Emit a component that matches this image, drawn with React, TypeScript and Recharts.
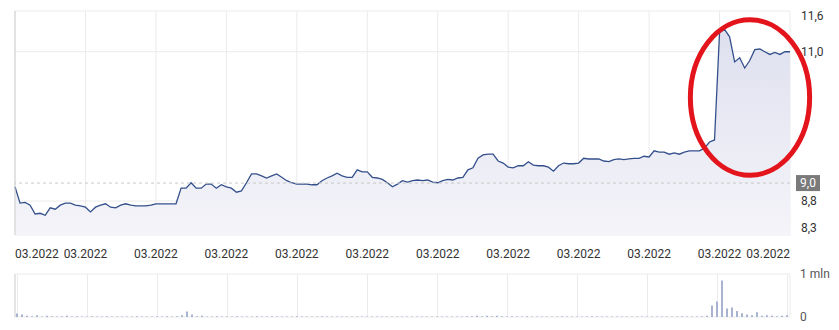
import React from 'react';
import {
  ComposedChart,
  Area,
  Bar,
  XAxis,
  YAxis,
  CartesianGrid,
  ReferenceLine,
  ReferenceArea,
} from 'recharts';

// closing prices, one point per session (index = session number)
const prices = [
  9.01, 8.77, 8.78, 8.74, 8.61, 8.62, 8.59, 8.7, 8.68, 8.74, 8.77, 8.77, 8.74, 8.73,
  8.71, 8.64, 8.71, 8.74, 8.76, 8.71, 8.7, 8.74, 8.76, 8.74, 8.73, 8.73, 8.73, 8.74,
  8.76, 8.76, 8.76, 8.76, 8.76, 8.99, 8.99, 9.07, 8.99, 8.99, 9.05, 9.05, 8.99, 9.04,
  9.01, 8.99, 8.93, 8.95, 9.07, 9.2, 9.2, 9.17, 9.14, 9.17, 9.2, 9.15, 9.1, 9.07,
  9.05, 9.05, 9.05, 9.04, 9.04, 9.1, 9.14, 9.17, 9.21, 9.17, 9.15, 9.15, 9.26, 9.23,
  9.23, 9.15, 9.14, 9.12, 9.07, 9.01, 9.05, 9.1, 9.08, 9.1, 9.11, 9.1, 9.11, 9.08,
  9.07, 9.1, 9.12, 9.11, 9.14, 9.15, 9.26, 9.29, 9.43, 9.48, 9.49, 9.49, 9.39, 9.36,
  9.3, 9.29, 9.32, 9.32, 9.38, 9.33, 9.32, 9.32, 9.3, 9.24, 9.32, 9.36, 9.35, 9.35,
  9.36, 9.43, 9.42, 9.42, 9.42, 9.39, 9.38, 9.41, 9.42, 9.41, 9.42, 9.43, 9.43, 9.46,
  9.45, 9.54, 9.52, 9.52, 9.49, 9.51, 9.49, 9.52, 9.54, 9.54, 9.54, 9.58, 9.67, 9.7,
  11.28, 11.33, 11.22, 10.85, 10.91, 10.76, 10.87, 11.03, 11.04, 11.0, 10.96, 10.99, 10.96, 11.0,
  11.0,
];

// traded volume, mln shares
const volumes = [
  0.08, 0.06, 0.03, 0.02, 0.04, 0.01, 0.03, 0.02, 0.01, 0.02, 0.03, 0.01, 0.02, 0.01,
  0.01, 0.02, 0.01, 0.01, 0.02, 0.01, 0.01, 0.01, 0.01, 0.01, 0.02, 0.01, 0.01, 0.01,
  0.02, 0.01, 0.02, 0.01, 0.02, 0.04, 0.13, 0.06, 0.02, 0.03, 0.01, 0.01, 0.02, 0.01,
  0.01, 0.01, 0.02, 0.01, 0.01, 0.01, 0.02, 0.01, 0.01, 0.02, 0.01, 0.01, 0.01, 0.01,
  0.02, 0.01, 0.01, 0.01, 0.01, 0.02, 0.01, 0.01, 0.01, 0.01, 0.01, 0.01, 0.01, 0.01,
  0.01, 0.01, 0.01, 0.01, 0.01, 0.01, 0.01, 0.01, 0.01, 0.01, 0.01, 0.01, 0.01, 0.01,
  0.01, 0.01, 0.01, 0.01, 0.01, 0.01, 0.02, 0.02, 0.03, 0.02, 0.03, 0.02, 0.03, 0.02,
  0.01, 0.02, 0.01, 0.01, 0.02, 0.01, 0.01, 0.01, 0.01, 0.01, 0.01, 0.02, 0.01, 0.01,
  0.01, 0.01, 0.01, 0.02, 0.01, 0.01, 0.01, 0.01, 0.01, 0.01, 0.01, 0.01, 0.01, 0.01,
  0.01, 0.01, 0.01, 0.01, 0.01, 0.01, 0.01, 0.02, 0.01, 0.01, 0.01, 0.02, 0.03, 0.27,
  0.36, 0.85, 0.2, 0.22, 0.14, 0.09, 0.06, 0.04, 0.11, 0.03, 0.04, 0.03, 0.02, 0.03,
  0.04,
];

const xTicks = [0, 14, 28, 42, 56, 70, 84, 98, 112, 126, 140, 154];
const xTickLabel = '03.2022';
const priceTicks = [8.3, 8.8, 11.0, 11.6];
const priceDomain = [8.3, 11.6];
const lastClose = 9.065;
const lastCloseLabel = '9,0';
const volumeTicks = [0, 1];
const volumeLabels = ['0', '1 mln'];

// highlighted zone (session index / price)
const highlight = { x1: 134.2, x2: 157.9, y1: 9.18, y2: 11.47 };

const data = prices.map((p, i) => ({ i, price: p, volume: volumes[i] }));

const FONT = 'Roboto, "Noto Sans", sans-serif';
const LINE = '#34508c';
const GRID = '#ebebeb';

const XTick = (props: any) => {
  const { x, y, index } = props;
  let anchor = 'middle';
  if (index === 0) anchor = 'start';
  if (index === xTicks.length - 1) anchor = 'end';
  return (
    <text x={x} y={y} dy={21} textAnchor={anchor} fill="#333" fontSize={12} fontFamily={FONT}>
      {xTickLabel}
    </text>
  );
};

const PriceTick = (props: any) => {
  const { y, payload } = props;
  let dy = 4;
  if (payload.value === 11.6) dy = 9;
  if (payload.value === 8.3) dy = -3;
  return (
    <text x={801} y={y} dy={dy} textAnchor="start" fill="#333" fontSize={12} fontFamily={FONT}>
      {payload.value.toFixed(1).replace('.', ',')}
    </text>
  );
};

const VolumeTick = (props: any) => {
  const { y, payload, index } = props;
  return (
    <text x={800} y={y} dy={4} textAnchor="start" fill="#555" fontSize={12} fontFamily={FONT}>
      {volumeLabels[index] ?? String(payload.value)}
    </text>
  );
};

const CloseBadge = (props: any) => {
  const { viewBox } = props;
  const x = viewBox.x + viewBox.width + 6;
  const y = viewBox.y;
  return (
    <g>
      <rect x={x} y={y - 8} width={24} height={16} fill="#7a7a7a" />
      <text x={x + 12} y={y} dy={4} textAnchor="middle" fill="#fff" fontSize={12} fontFamily={FONT}>
        {lastCloseLabel}
      </text>
    </g>
  );
};

const Ellipse = (props: any) => {
  const { x, y, width, height } = props;
  return (
    <ellipse
      cx={x + width / 2}
      cy={y + height / 2}
      rx={Math.abs(width) / 2}
      ry={Math.abs(height) / 2}
      fill="none"
      stroke="#e3141b"
      strokeWidth={5}
    />
  );
};

export default function App() {
  return (
    <div style={{ position: 'absolute', left: 0, top: 0, width: 839, height: 330, background: '#fff' }}>
      <ComposedChart
        width={839}
        height={262}
        data={data}
        margin={{ top: 11, right: 0, left: 15, bottom: 0 }}
      >
        <defs>
          <linearGradient id="priceFill" x1="0" y1="0" x2="0" y2="1">
            <stop offset="0%" stopColor="#dfe0ef" stopOpacity={1} />
            <stop offset="100%" stopColor="#f4f4f9" stopOpacity={1} />
          </linearGradient>
        </defs>
        <CartesianGrid stroke={GRID} />
        <XAxis
          dataKey="i"
          type="number"
          domain={[0, 154]}
          ticks={xTicks}
          tick={<XTick />}
          tickLine={false}
          axisLine={false}
          tickSize={0}
          height={27}
          interval={0}
        />
        <YAxis
          orientation="right"
          type="number"
          domain={priceDomain}
          ticks={priceTicks}
          tick={<PriceTick />}
          tickLine={false}
          axisLine={false}
          width={49}
          interval={0}
        />
        <ReferenceLine x={0} stroke="#cfcfcf" />
        <Area
          type="linear"
          dataKey="price"
          stroke={LINE}
          strokeWidth={1.3}
          fill="url(#priceFill)"
          fillOpacity={1}
          dot={false}
          activeDot={false}
          isAnimationActive={false}
        />
        <ReferenceLine
          y={lastClose}
          stroke="#c8c8c8"
          strokeDasharray="3 3"
          label={<CloseBadge />}
        />
        <ReferenceArea
          x1={highlight.x1}
          x2={highlight.x2}
          y1={highlight.y1}
          y2={highlight.y2}
          ifOverflow="visible"
          shape={<Ellipse />}
        />
      </ComposedChart>
      <div style={{ position: 'absolute', left: 0, top: 262 }}>
        <ComposedChart
          width={839}
          height={68}
          data={data}
          margin={{ top: 12, right: 0, left: 15, bottom: 13 }}
          barCategoryGap={0}
        >
          <CartesianGrid stroke={GRID} />
          <XAxis
            dataKey="i"
            type="number"
            domain={[-0.5, 154.5]}
            ticks={xTicks}
            hide
          />
          <YAxis
            orientation="right"
            type="number"
            domain={[0, 1]}
            ticks={volumeTicks}
            tick={<VolumeTick />}
            tickLine={false}
            axisLine={false}
            width={49}
            interval={0}
          />
          <ReferenceLine x={-0.5} stroke="#d5d5d5" />
          <Bar dataKey="volume" fill="#a7b3d1" barSize={2} isAnimationActive={false} />
        </ComposedChart>
      </div>
    </div>
  );
}
